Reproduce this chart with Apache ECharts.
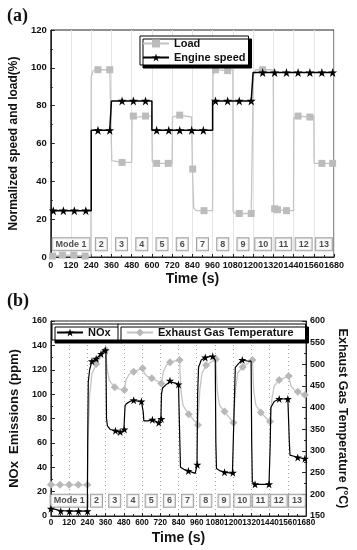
<!DOCTYPE html>
<html><head><meta charset="utf-8">
<script src="https://cdn.jsdelivr.net/npm/echarts@6/dist/echarts.min.js"></script>
<style>html,body{margin:0;padding:0;background:#fff}#c{width:357px;height:550px}</style>
</head><body><div id="c"></div>
<script>
// ---------- Data ----------
const xTicks = [0,120,240,360,480,600,720,840,960,1080,1200,1320,1440,1560,1680];
const modeNames = ['Mode 1','2','3','4','5','6','7','8','9','10','11','12','13'];
const modeCenters = [120,300,420,540,660,780,900,1020,1140,1260,1380,1500,1620];

// (a) Engine speed (%): step curve + star markers
const speedCurve = [[0,24.5],[240,24.5],[240,67],[360,67],[360,82.5],[600,82.5],[600,67],[960,67],[960,82.5],[1200,82.5],[1200,97.5],[1680,97.5]];
const speedMarks = [[15,24.5],[75,24.5],[140,24.5],[208,24.5],[280,67],[350,67],[423,82.5],[490,82.5],[562,82.5],[628,67],[700,67],[765,67],[836,67],[905,67],[977,82.5],[1049,82.5],[1118,82.5],[1189,82.5],[1257,97.5],[1328,97.5],[1398,97.5],[1467,97.5],[1537,97.5],[1608,97.5],[1672,97.5]];

// (a) Load (%): curve + square markers
const loadCurve = [[0,0.5],[238,0.5],[240,95],[252,98.5],[270,99],[355,99],[360,98],[362,51],[372,50],[480,50],[482,73.5],[492,74.5],[600,74.5],[602,50.5],[612,49.5],[720,49.5],[722,74],[732,75],[835,74],[840,47],[848,26],[862,24.5],[960,24.5],[962,96],[975,99],[1080,99],[1082,24],[1095,23],[1200,23],[1202,96],[1215,99],[1320,99],[1322,26],[1332,25],[1440,24.5],[1442,73.5],[1455,74.5],[1560,74.5],[1562,49.5],[1575,49.5],[1680,49.5]];
const loadMarks = [[11,0.5],[69,1],[137,1],[204,0.5],[280,99],[350,99],[423,50],[490,74.5],[562,74.5],[628,49.5],[697,49.5],[765,75],[842,46.5],[909,24.5],[977,99],[1049,98.5],[1118,23],[1189,23],[1257,99],[1328,25.5],[1345,25],[1398,24.5],[1467,74.5],[1537,74],[1608,49.5],[1672,49.5]];

// (b) NOx (ppm): curve + star markers
const noxCurve = [[0,6],[30,5.5],[60,4.5],[120,4],[180,4],[240,4],[242,60],[246,110],[255,120],[270,127],[298,129],[330,133],[350,136],[362,134],[366,80],[372,74],[390,71],[425,70],[456,69],[480,70],[486,71],[488,90],[495,92],[520,94],[545,95],[580,94],[604,94],[608,85],[612,78],[640,78],[668,79],[700,77],[715,76],[724,79],[728,100],[735,105],[760,108],[784,110],[820,109],[845,107],[849,60],[853,40],[880,38],[911,37],[950,35],[960,35],[962,42],[966,100],[972,122],[990,128],[1016,130],[1050,131],[1075,131],[1082,128],[1086,60],[1090,39],[1115,37],[1143,36],[1195,35],[1205,36],[1209,100],[1214,122],[1235,125],[1260,128],[1300,127],[1318,127],[1322,60],[1326,28],[1344,26],[1380,26],[1440,26],[1444,60],[1448,89],[1470,94],[1503,96],[1560,96],[1566,95],[1570,60],[1574,50],[1600,49],[1625,48],[1672,47],[1680,47]];
const noxMarks = [[0,6],[65,4],[122,4],[182,4],[241,4],[270,127],[298,129],[330,133],[358,136],[425,70],[456,69],[484,71],[545,95],[596,94],[668,79],[710,76.5],[727,79.6],[784,111],[840,108],[905,37],[964,42],[1016,130],[1065,131],[1143,36],[1198,35.5],[1260,128],[1344,26],[1436,26],[1503,96],[1560,96],[1625,48],[1672,47]];

// (b) Exhaust gas temperature (°C): curve + diamond markers
const tempCurve = [[0,222],[240,222],[245,330],[255,430],[270,478],[298,500],[330,518],[360,533],[370,490],[385,463],[420,447],[450,443],[484,441],[495,465],[515,477],[545,483],[604,491],[615,480],[635,472],[664,468],[727,456],[740,482],[760,498],[784,505],[847,510],[856,440],[870,405],[907,385],[968,360],[980,440],[995,480],[1022,498],[1086,512],[1095,440],[1110,405],[1143,391],[1202,365],[1215,440],[1230,480],[1263,494],[1327,510],[1335,440],[1350,405],[1382,389],[1443,367],[1455,420],[1470,450],[1503,464],[1566,473],[1580,450],[1600,442],[1625,437],[1672,429],[1680,428]];
const tempMarks = [[0,222],[60,222],[120,222],[180,222],[240,222],[298,501],[361,533],[420,447],[484,441],[545,483],[604,491],[664,468],[727,456],[784,505],[847,510],[907,385],[968,360],[1022,498],[1086,512],[1143,391],[1202,365],[1263,494],[1327,510],[1382,389],[1443,368],[1503,464],[1566,473],[1625,437],[1672,429]];

// ---------- Helpers ----------
function merge(curve, marks){
  const a = curve.map((p,i)=>({x:p[0],k:0,i:i,item:{value:p,symbol:'none'}}));
  const b = marks.map((p,i)=>({x:p[0],k:1,i:i,item:{value:p}}));
  return a.concat(b).sort((u,v)=> u.x-v.x || u.k-v.k || u.i-v.i).map(o=>o.item);
}
const FONT = 'Liberation Sans';
const plain = v => String(v);
const axisLabel = {fontFamily:FONT,fontWeight:'bold',fontSize:9,color:'#111',margin:4,formatter:plain,showMinLabel:true,showMaxLabel:true,hideOverlap:false};
const nameStyle = {fontFamily:FONT,fontWeight:'bold',color:'#111'};
const modeLabel = (y, xi, yi) => ({
  type:'scatter', xAxisIndex:xi, yAxisIndex:yi, silent:true, symbolSize:0, z:1,
  data: modeCenters.map((c,i)=>({value:[c,y],name:modeNames[i]})),
  label:{show:true,position:'inside',formatter:'{b}',fontFamily:FONT,fontWeight:'bold',fontSize:9,color:'#222',
    backgroundColor:'#fafafa',borderColor:'#888',borderWidth:1,padding:[2,3,1,3]}
});
const STAR = 'path://M50,0 L61.2,34.5 L97.6,34.5 L68.2,55.9 L79.4,90.5 L50,69.1 L20.6,90.5 L31.8,55.9 L2.4,34.5 L38.8,34.5 Z';
const legendBase = {itemWidth:26,itemHeight:10,backgroundColor:'#fff',borderColor:'#000',borderWidth:1,
  shadowColor:'#000',shadowOffsetX:3,shadowOffsetY:3,shadowBlur:0,
  textStyle:{fontFamily:FONT,fontWeight:'bold',fontSize:11,color:'#111'}};

const chart = echarts.init(document.getElementById('c'), null, {renderer:'canvas'});
chart.setOption({
  animation:false,
  backgroundColor:'#fff',
  title:[
    {text:'(a)',left:2,top:2,textStyle:{fontFamily:'Liberation Serif',fontWeight:'bold',fontSize:18,color:'#111'}},
    {text:'(b)',left:2,top:287,textStyle:{fontFamily:'Liberation Serif',fontWeight:'bold',fontSize:18,color:'#111'}}
  ],
  legend:[
    Object.assign({}, legendBase, {data:['Load','Engine speed'],orient:'vertical',left:140,top:36,itemGap:3,padding:[2,3,2,2]}),
    Object.assign({}, legendBase, {data:['NOx'],left:52,top:324,padding:[3,8,2,4]}),
    Object.assign({}, legendBase, {data:['Exhaust Gas Temperature'],left:118,top:324,padding:[3,12,2,8]})
  ],
  grid:[
    {left:44,right:23,top:30,bottom:293,show:true,borderColor:'#222',borderWidth:1},
    {left:43,right:49,top:321,bottom:34,show:true,borderColor:'#222',borderWidth:1}
  ],
  xAxis:[
    {type:'value',gridIndex:0,min:0,max:1680,interval:120,
     name:'Time (s)',nameLocation:'middle',nameGap:15,nameTextStyle:Object.assign({fontSize:14},nameStyle),
     axisLine:{lineStyle:{color:'#222'}},axisTick:{inside:true,length:3,lineStyle:{color:'#222'}},
     minorTick:{show:true,splitNumber:2,length:2},
     splitLine:{show:true,lineStyle:{color:'#e4e4e4',width:1}},
     axisLabel:Object.assign({},axisLabel,{fontSize:9})},
    {type:'value',gridIndex:1,min:0,max:1680,interval:120,
     name:'Time (s)',nameLocation:'middle',nameGap:15,nameTextStyle:Object.assign({fontSize:14},nameStyle),
     axisLine:{lineStyle:{color:'#222'}},axisTick:{inside:true,length:3,lineStyle:{color:'#222'}},
     minorTick:{show:true,splitNumber:2,length:2},
     splitLine:{show:true,lineStyle:{color:'#aaa',width:1,type:[1,3]}},
     axisLabel:Object.assign({},axisLabel,{fontSize:8.2,margin:3})}
  ],
  yAxis:[
    {type:'value',gridIndex:0,min:0,max:120,interval:20,
     name:'Normalized speed and load(%)',nameLocation:'middle',nameGap:22,nameRotate:90,nameTextStyle:Object.assign({fontSize:12},nameStyle),
     axisLine:{show:true,lineStyle:{color:'#222'}},axisTick:{show:true,inside:true,length:4,lineStyle:{color:'#222'}},
     minorTick:{show:true,splitNumber:2,length:2},splitLine:{show:false},
     axisLabel:Object.assign({},axisLabel,{fontSize:9.5})},
    {type:'value',gridIndex:1,min:0,max:160,interval:20,
     name:'NOx  Emissions (ppm)',nameLocation:'middle',nameGap:23,nameRotate:90,nameTextStyle:Object.assign({fontSize:13},nameStyle),
     axisLine:{show:true,lineStyle:{color:'#222'}},axisTick:{show:true,inside:true,length:4,lineStyle:{color:'#222'}},
     minorTick:{show:true,splitNumber:2,length:2},splitLine:{show:false},
     axisLabel:Object.assign({},axisLabel,{fontSize:9})},
    {type:'value',gridIndex:1,position:'right',min:150,max:600,interval:50,
     name:'Exhaust Gas Temperature (°C)',nameLocation:'middle',nameGap:28,nameRotate:-90,nameTextStyle:Object.assign({fontSize:12.5},nameStyle),
     axisLine:{show:true,lineStyle:{color:'#222'}},axisTick:{show:true,inside:true,length:4,lineStyle:{color:'#222'}},
     minorTick:{show:true,splitNumber:2,length:2},splitLine:{show:false},
     axisLabel:Object.assign({},axisLabel,{fontSize:9})}
  ],
  series:[
    modeLabel(6.7,0,0),
    {name:'Load',type:'line',xAxisIndex:0,yAxisIndex:0,data:merge(loadCurve,loadMarks),showAllSymbol:true,
     symbol:'rect',symbolSize:7,lineStyle:{color:'#c4c4c4',width:1.3},itemStyle:{color:'#bcbcbc'},z:2},
    {name:'Engine speed',type:'line',xAxisIndex:0,yAxisIndex:0,data:merge(speedCurve,speedMarks),showAllSymbol:true,
     symbol:STAR,symbolSize:9,lineStyle:{color:'#000',width:1.5},itemStyle:{color:'#000'},z:3},
    modeLabel(12.5,1,1),
    {name:'Exhaust Gas Temperature',type:'line',xAxisIndex:1,yAxisIndex:2,data:merge(tempCurve,tempMarks),showAllSymbol:true,
     symbol:'diamond',symbolSize:8,lineStyle:{color:'#c4c4c4',width:1.3},itemStyle:{color:'#b8b8b8'},z:2},
    {name:'NOx',type:'line',xAxisIndex:1,yAxisIndex:1,data:merge(noxCurve,noxMarks),showAllSymbol:true,
     symbol:STAR,symbolSize:8,lineStyle:{color:'#000',width:1.2},itemStyle:{color:'#000'},z:3}
  ]
});
</script></body></html>
